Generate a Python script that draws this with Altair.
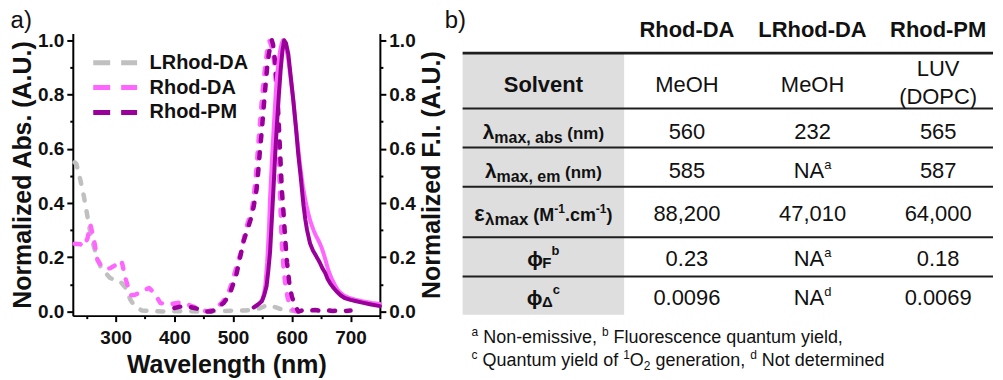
import altair as alt
import pandas as pd

FONT = "Liberation Sans"
INK = "#111111"

# ---------------- spectra ----------------
lrhod_da_abs_wl = [230, 233, 240, 246, 252, 258, 266, 274, 283, 290, 297, 308, 317, 325, 331, 337, 345, 360,
                   380, 400, 420, 440, 460, 480, 500, 520, 535, 545, 552, 558, 565, 572, 580, 590, 600, 610]
lrhod_da_abs = [0.55, 0.545, 0.484, 0.423, 0.35, 0.276, 0.215, 0.166, 0.142, 0.125, 0.117, 0.111, 0.087, 0.044,
                0.025, 0.013, 0.004, 0.002, 0.0, 0.001, 0.002, 0.0, 0.001, 0.002, 0.003, 0.004, 0.007, 0.012,
                0.018, 0.024, 0.022, 0.016, 0.01, 0.005, 0.003, 0.002]

rhod_da_abs_wl = [230, 240, 246, 252, 257, 263, 269, 275, 280, 286, 291, 300, 305, 310, 317, 321, 326, 333, 342,
                  350, 357, 365, 371, 376, 383, 390, 400, 410, 422, 430, 439, 447, 456, 462, 467, 474, 481, 487,
                  492, 497, 501, 505, 509, 515, 521, 527, 532, 535, 538, 541, 543, 546, 549, 552, 555, 558, 560,
                  562, 565, 569, 572, 575, 577, 580, 583, 586, 589, 593, 597, 601, 606, 612]
rhod_da_abs = [0.25, 0.248, 0.24, 0.27, 0.32, 0.264, 0.19, 0.17, 0.16, 0.158, 0.16, 0.172, 0.18, 0.188, 0.12,
               0.09, 0.06, 0.062, 0.07, 0.08, 0.087, 0.069, 0.05, 0.032, 0.028, 0.026, 0.03, 0.033, 0.026, 0.02,
               0.013, 0.006, 0.0, 0.005, 0.013, 0.02, 0.032, 0.05, 0.069, 0.1, 0.13, 0.16, 0.19, 0.228, 0.3,
               0.34, 0.374, 0.42, 0.48, 0.56, 0.62, 0.7, 0.78, 0.85, 0.91, 0.96, 0.986, 0.998, 0.98, 0.94,
               0.87, 0.77, 0.62, 0.423, 0.252, 0.16, 0.1, 0.05, 0.02, 0.008, 0.002, 0.0]

rhod_pm_abs_wl = [400, 410, 420, 430, 440, 447, 455, 462, 468, 473, 478, 484, 490, 495, 500, 506, 512, 518, 524,
                  530, 535, 540, 543, 546, 549, 552, 555, 558, 561, 564, 566, 568, 572, 575, 577, 581, 583, 586,
                  589, 592, 596, 600, 605, 611, 620, 630, 640, 650, 660, 670, 680, 690, 700]
rhod_pm_abs = [0.013, 0.018, 0.02, 0.015, 0.01, 0.003, 0.0, 0.0, 0.005, 0.012, 0.022, 0.032, 0.05, 0.069, 0.1,
               0.14, 0.2, 0.26, 0.3, 0.34, 0.386, 0.45, 0.52, 0.6, 0.668, 0.75, 0.827, 0.9, 0.95, 0.985, 1.0,
               0.985, 0.913, 0.81, 0.73, 0.546, 0.45, 0.362, 0.26, 0.179, 0.1, 0.056, 0.025, 0.0, 0.006, 0.003,
               0.006, 0.002, 0.005, 0.002, 0.004, 0.002, 0.004]

rhod_da_em_wl = [538, 545, 550, 553, 555, 558, 561, 563, 566, 569, 572, 574, 577, 580, 583, 585, 588, 591, 594,
                 598, 602, 606, 610, 614, 619, 624, 628, 632, 637, 641, 645, 650, 654, 658, 662, 668, 674, 680,
                 688, 698, 708, 720, 736, 750]
rhod_da_em = [0.02, 0.03, 0.045, 0.07, 0.1, 0.18, 0.3, 0.42, 0.55, 0.67, 0.78, 0.85, 0.91, 0.96, 0.99, 1.0, 0.99,
              0.965, 0.93, 0.86, 0.79, 0.70, 0.62, 0.54, 0.46, 0.4, 0.362, 0.33, 0.3, 0.28, 0.264, 0.24, 0.215,
              0.185, 0.154, 0.12, 0.095, 0.075, 0.06, 0.05, 0.044, 0.038, 0.032, 0.028]

rhod_pm_em_wl = [535, 542, 549, 553, 557, 560, 563, 566, 569, 572, 575, 578, 581, 584, 587, 590, 594, 598, 603,
                 607, 611, 615, 620, 623, 626, 631, 636, 640, 644, 648, 652, 657, 661, 665, 670, 676, 683, 690,
                 700, 710, 722, 733, 750]
rhod_pm_em = [0.015, 0.025, 0.038, 0.06, 0.093, 0.15, 0.22, 0.34, 0.46, 0.59, 0.70, 0.80, 0.89, 0.96, 1.0, 0.99,
              0.95, 0.87, 0.77, 0.68, 0.58, 0.5, 0.39, 0.34, 0.3, 0.252, 0.225, 0.21, 0.195, 0.179, 0.16, 0.142,
              0.12, 0.105, 0.09, 0.075, 0.06, 0.05, 0.043, 0.038, 0.032, 0.027, 0.02]

series_names = ["LRhod-DA", "Rhod-DA", "Rhod-PM"]
series_colors = ["#c0c0c0", "#ff66ff", "#990099"]

x_ticks = list(range(250, 751, 50))
y_ticks = [round(i * 0.1, 1) for i in range(11)]

# ---------------- table text ----------------
panel_a = "a)"
panel_b = "b)"
table_headers = ["Rhod-DA", "LRhod-DA", "Rhod-PM"]
row_labels = [
    [("Solvent", "lab")],
    [("λ", "sym"), ("max, abs", "sub"), (" (nm)", "unit")],
    [("λ", "sym"), ("max, em", "sub"), (" (nm)", "unit")],
    [("ε", "esym"), ("λmax", "esub"), (" (M", "eunit"), ("-1", "sup"), (".cm", "eunit"), ("-1", "sup"), (")", "eunit")],
    [("ϕ", "phi"), ("F", "phisub"), ("b", "phisup")],
    [("ϕ", "phi"), ("Δ", "phisub"), ("c", "phisup")],
]
solvent = [["MeOH"], ["MeOH"], ["LUV", "(DOPC)"]]
lambda_abs = ["560", "232", "565"]
lambda_em = ["585", "NA^a", "587"]
epsilon = ["88,200", "47,010", "64,000"]
phi_f = ["0.23", "NA^a", "0.18"]
phi_delta = ["0.0096", "NA^d", "0.0069"]
footnote_1 = [("a", "fsup"), (" Non-emissive, ", "fn"), ("b", "fsup"), (" Fluorescence quantum yield,", "fn")]
footnote_2 = [("c", "fsup"), (" Quantum yield of ", "fn"), ("1", "fsup"), ("O", "fn"), ("2", "fsub"),
              (" generation, ", "fn"), ("d", "fsup"), (" Not determined", "fn")]

# ---------------- styles / layout ----------------
ROLE = {  # size, baseline shift, bold
    "hdr": (22, 0, True), "lab": (22, 0, True), "sym": (21, 0, True), "sub": (16, 4, True),
    "unit": (17, 0, True), "esym": (22, 0, True), "esub": (17, 4, True), "eunit": (18, 0, True),
    "sup": (12, -8, True), "phi": (21, 0, True), "phisub": (15, 2, True), "phisup": (13, -11, True),
    "val": (22, 0, False), "vsup": (13, -9, False), "fn": (18, 0, False), "fsup": (12, -7, False),
    "fsub": (12, 4, False), "panel": (24, 0, False),
}
W_REG = {' ': 278, '(': 333, ')': 333, ',': 278, '-': 333, '.': 278, 'A': 667, 'C': 722, 'D': 722, 'F': 611,
         'H': 722, 'L': 556, 'M': 833, 'N': 722, 'O': 778, 'P': 667, 'Q': 778, 'U': 722, 'V': 667, 'a': 556,
         'b': 556, 'c': 500, 'd': 556, 'e': 556, 'f': 278, 'g': 556, 'h': 556, 'i': 222, 'l': 222, 'm': 833,
         'n': 556, 'o': 556, 'q': 556, 'r': 333, 's': 500, 't': 278, 'u': 556, 'v': 500, 'y': 500, 'x': 500,
         'w': 722, 'k': 500, 'p': 556}
W_BOLD = {' ': 278, '(': 333, ')': 333, ',': 278, '-': 333, '.': 278, 'A': 722, 'D': 722, 'F': 611, 'L': 611,
          'M': 833, 'P': 667, 'R': 722, 'S': 667, 'a': 556, 'b': 611, 'c': 556, 'd': 611, 'e': 556, 'h': 611,
          'l': 278, 'm': 889, 'n': 611, 'o': 611, 's': 556, 't': 333, 'v': 556, 'x': 556, 'λ': 556, 'ε': 490,
          'φ': 719, 'ϕ': 719, 'Δ': 722}


def text_width(s, size, bold):
    tbl = W_BOLD if bold else W_REG
    return sum(tbl.get(ch, 556) for ch in s) * size / 1000.0


def place(parts, x, base_y, align="center"):
    widths = [text_width(t, ROLE[r][0], ROLE[r][2]) for t, r in parts]
    cur = x - sum(widths) / 2 if align == "center" else x
    out = []
    for (t, r), w in zip(parts, widths):
        size, shift, bold = ROLE[r]
        lead = len(t) - len(t.lstrip(" "))
        out.append({"x": cur + text_width(" " * lead, size, bold), "y": base_y + shift,
                    "text": t.strip(" "), "size": size, "bold": bold})
        cur += w
    return out


def cell_parts(v):
    if "^" in v:
        a, b = v.split("^")
        return [(a, "val"), (b, "vsup")]
    return [(v, "val")]


TBL_X = (463, 995)
GRAY_X = (463, 625)
GRAY_BOTTOM = 315
LINE_Y = [52.7, 108.3, 147.3, 186.7, 237.3, 276.7]
COL_X = [544, 688, 814, 940]
HDR_BASE = 37
ROW_BASE = [91.5, 138.5, 178, 221, 266, 305]
SOLV_TWO_LINE = [76, 104]
FOOT_X = 472
FOOT_BASE = [343, 367]

texts = []
texts += place([(panel_b, "panel")], 445, 27, align="left")
for c, h in enumerate(table_headers):
    texts += place([(h, "hdr")], COL_X[c + 1], HDR_BASE)
for r, parts in enumerate(row_labels):
    texts += place(parts, COL_X[0], ROW_BASE[r])
for c, lines in enumerate(solvent):
    bases = [ROW_BASE[0]] if len(lines) == 1 else SOLV_TWO_LINE
    for line, b in zip(lines, bases):
        texts += place([(line, "val")], COL_X[c + 1], b)
for r, vals in enumerate([lambda_abs, lambda_em, epsilon, phi_f, phi_delta], start=1):
    for c, v in enumerate(vals):
        texts += place(cell_parts(v), COL_X[c + 1], ROW_BASE[r])
texts += place(footnote_1, FOOT_X, FOOT_BASE[0], align="left")
texts += place(footnote_2, FOOT_X, FOOT_BASE[1], align="left")
text_df = pd.DataFrame(texts)

rules_df = pd.DataFrame({"x1": [TBL_X[0]] * len(LINE_Y), "x2": [TBL_X[1]] * len(LINE_Y), "y": LINE_Y,
                         "w": [2.8] + [2.0] * (len(LINE_Y) - 1)})
gray_df = pd.DataFrame({"x1": [GRAY_X[0]], "x2": [GRAY_X[1]], "y1": [LINE_Y[0]], "y2": [GRAY_BOTTOM]})

TW, TH = 550, 335
xs = alt.Scale(domain=[445, 445 + TW], range=[0, TW], nice=False, zero=False)
ys = alt.Scale(domain=[33, 33 + TH], range=[0, TH], nice=False, zero=False)

gray_layer = alt.Chart(gray_df).mark_rect(color="#dedede").encode(
    x=alt.X("x1:Q", scale=xs, axis=None), x2="x2:Q",
    y=alt.Y("y1:Q", scale=ys, axis=None), y2="y2:Q")
rule_layer = alt.Chart(rules_df).mark_rule(color="#1e1e1e").encode(
    x=alt.X("x1:Q", scale=xs, axis=None), x2="x2:Q",
    y=alt.Y("y:Q", scale=ys, axis=None),
    strokeWidth=alt.StrokeWidth("w:Q", scale=None, legend=None))


def text_layer(bold):
    return alt.Chart(text_df[text_df["bold"] == bold]).mark_text(
        font=FONT, fontWeight="bold" if bold else "normal", align="left", baseline="alphabetic", color=INK
    ).encode(
        x=alt.X("x:Q", scale=xs, axis=None),
        y=alt.Y("y:Q", scale=ys, axis=None),
        text="text:N",
        size=alt.Size("size:Q", scale=None, legend=None))


table = alt.layer(gray_layer, rule_layer, text_layer(False), text_layer(True)).properties(width=TW, height=TH)

# ---------------- spectra chart ----------------
x_scale = alt.Scale(domain=[227, 750], nice=False, zero=False)
y_scale = alt.Scale(domain=[-0.015, 1.025], nice=False, zero=False)
color_scale = alt.Scale(domain=series_names, range=series_colors)

x_axis = alt.Axis(values=x_ticks, format="d", labelExpr="datum.value % 100 == 0 ? datum.label : ''",
                  tickSize={"condition": {"test": "datum.value % 100 == 0", "value": 6}, "value": 3},
                  title="Wavelength (nm)", labelPadding=7, titlePadding=5)


def y_axis(orient):
    kw = dict(orient=orient, values=y_ticks, format=".1f",
              labelExpr="round(datum.value * 10) % 2 == 0 ? format(datum.value, '.1f') : ''",
              tickSize={"condition": {"test": "round(datum.value * 10) % 2 == 0", "value": 6}, "value": 3},
              labelPadding=3, titlePadding=2)
    if orient == "left":
        kw["title"] = "Normalized Abs. (A.U.)"
    else:
        kw["title"] = "Normalized F.I. (A.U.)"
        kw["titleAngle"] = 270
        kw["titleBaseline"] = "top"
        kw["titlePadding"] = 4
    return alt.Axis(**kw)


legend = alt.Legend(title=None, orient="none", legendX=18, legendY=17, symbolType="stroke", symbolSize=1936,
                    symbolStrokeWidth=5, symbolDash=[17, 11], labelFont=FONT, labelFontSize=20,
                    labelFontWeight="bold", labelColor=INK, labelOffset=10, clipHeight=24.5, rowPadding=0,
                    padding=0)


def abs_layer(wl, vals, name):
    df = pd.DataFrame({"wl": wl, "val": vals, "series": name})
    return alt.Chart(df).mark_line(strokeWidth=4.5, strokeDash=[6, 11], strokeCap="round",
                                   strokeJoin="round").encode(
        x=alt.X("wl:Q", scale=x_scale, axis=x_axis),
        y=alt.Y("val:Q", scale=y_scale, axis=y_axis("left")),
        color=alt.Color("series:N", scale=color_scale, legend=legend))


def em_layer(wl, vals, color):
    df = pd.DataFrame({"wl": wl, "val": vals})
    return alt.Chart(df).mark_line(strokeWidth=4, color=color, strokeCap="round", strokeJoin="round").encode(
        x=alt.X("wl:Q", scale=x_scale, axis=x_axis),
        y=alt.Y("val:Q", scale=y_scale, axis=y_axis("right")))


abs_group = alt.layer(
    abs_layer(lrhod_da_abs_wl, lrhod_da_abs, series_names[0]),
    abs_layer(rhod_da_abs_wl, rhod_da_abs, series_names[1]),
    abs_layer(rhod_pm_abs_wl, rhod_pm_abs, series_names[2]),
)
em_group = alt.layer(
    em_layer(rhod_da_em_wl, rhod_da_em, series_colors[1]),
    em_layer(rhod_pm_em_wl, rhod_pm_em, series_colors[2]),
)

spectra = alt.layer(abs_group, em_group).resolve_scale(y="independent").properties(
    width=308, height=283,
    title=alt.Title(panel_a, anchor="start", frame="bounds", fontSize=24, fontWeight="normal", font=FONT,
                    color=INK, offset=-2))

chart = alt.hconcat(spectra, table, spacing=65, bounds="flush").properties(
    padding={"left": 2, "top": 0, "right": 0, "bottom": 0}
).configure_view(stroke=None).configure_axis(
    domainColor="black", domainWidth=2, tickColor="black", tickWidth=2, labelFont=FONT, labelFontSize=19,
    labelFontWeight="bold", labelColor=INK, titleFont=FONT, titleFontSize=25, titleFontWeight="bold",
    titleColor=INK, grid=False, labelOverlap=False, labelFlush=False
)

chart.save("out.html", embed_options={"renderer": "svg", "actions": False})
